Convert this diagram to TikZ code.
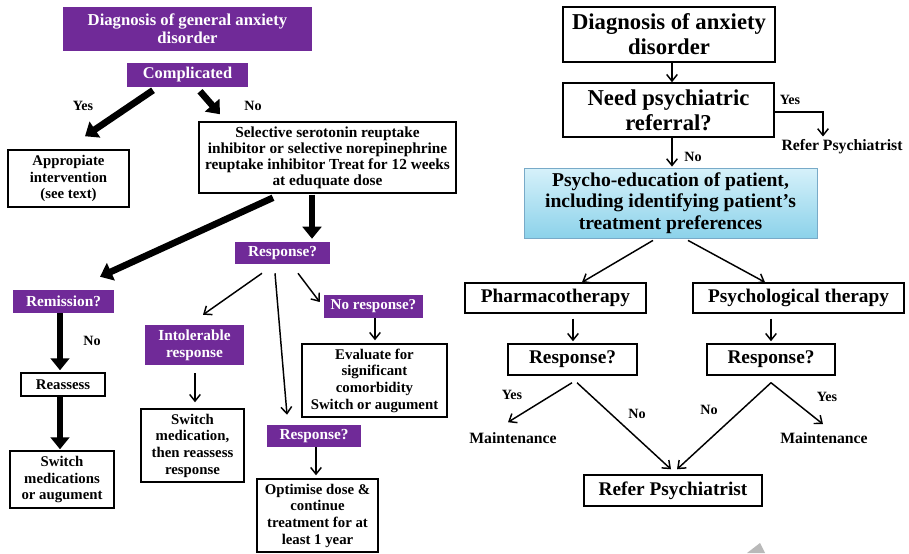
\documentclass[tikz,border=0pt]{standalone}
\usepackage{fontspec}
\setmainfont{Liberation Serif}
\usetikzlibrary{arrows.meta,calc}
\definecolor{ppl}{RGB}{112,42,152}
\definecolor{blueT}{RGB}{214,241,250}
\definecolor{blueB}{RGB}{140,210,234}
\definecolor{blueD}{RGB}{120,170,200}
\begin{document}
\begin{tikzpicture}[x=0.75pt,y=-0.75pt,
  fz/.style 2 args={font=\fontsize{#1}{#2}\selectfont\bfseries},
  sz/.style 2 args={minimum width=#1*0.75pt, minimum height=#2*0.75pt},
  wbox/.style={draw, line width=1.1pt, fill=white, align=center, inner sep=0pt},
  pbox/.style={fill=ppl, text=white, align=center, inner sep=0pt},
  lbl/.style={fz={10.6}{12}, inner sep=0pt},
  thk/.style={line width=5pt, -{Triangle[length=9pt,width=14pt]}},
  thn/.style={line width=1.1pt, -{Straight Barb[length=5pt,width=8pt]}},
]
\useasboundingbox (0,0) rectangle (909,553);
\fill[white] (0,0) rectangle (909,553);

% ---------------- left flowchart ----------------
\node[pbox, sz={249}{44}, fz={12.5}{13.5}] (ldiag) at (187.5,29) {Diagnosis of general anxiety\\disorder};
\node[pbox, sz={121}{24}, fz={12.3}{13}] (comp) at (187.5,75) {Complicated};
\node[wbox, sz={121}{57}, fz={11.1}{12.3}] (appr) at (68.5,178.5) {Appropiate\\intervention\\(see text)};
\node[wbox, sz={257}{71}, fz={11.5}{12}] (ssri) at (327.5,157.5) {Selective serotonin reuptake\\inhibitor or selective norepinephrine\\reuptake inhibitor Treat for 12 weeks\\at eduquate dose};
\node[pbox, sz={95}{22}, fz={11.5}{12}] (resp1) at (282.5,253) {Response?};
\node[pbox, sz={101}{23}, fz={11.5}{12}] (remi) at (63.5,301.5) {Remission?};
\node[wbox, sz={84}{23}, fz={11.1}{12}] (reas) at (63,384.5) {Reassess};
\node[wbox, sz={104}{57}, fz={11.1}{12.3}] (swm) at (62,479.5) {Switch\\medications\\or augument};
\node[pbox, sz={99}{40}, fz={11.5}{12.75}] (intol) at (194.5,345) {Intolerable\\response};
\node[wbox, sz={103}{73}, fz={11.1}{12.5}] (swm2) at (192.5,445.5) {Switch\\medication,\\then reassess\\response};
\node[pbox, sz={99}{23}, fz={11.3}{12}] (nores) at (373.5,306.5) {No response?};
\node[wbox, sz={145}{73}, fz={11.1}{12.5}] (eval) at (374.5,380.5) {Evaluate for\\significant\\comorbidity\\Switch or augument};
\node[pbox, sz={94}{22}, fz={11.5}{12}] (resp2) at (314,436) {Response?};
\node[wbox, sz={121}{73}, fz={11.1}{12.5}] (opt) at (317.5,515.5) {Optimise dose \&\\continue\\treatment for at\\least 1 year};

\node[lbl] (yes1) at (83,106) {Yes};
\node[lbl] (no1) at (253,106) {No};
\node[lbl] (no2) at (92,341) {No};

\draw[thk] ($(comp.south)+(-34.5,3)$) -- ($(appr.north)+(16.5,-13)$);
\draw[thk] ($(comp.south)+(12.5,4)$) -- ($(ssri.north)+(-107.5,-7)$);
\draw[thk] ($(ssri.south)+(-54.5,4)$) -- ($(remi.north)+(36.5,-13)$);
\draw[thk] ($(ssri.south)+(-15.5,1)$) -- ($(resp1.north)+(29.5,-3)$);
\draw[thk] ($(remi.south)+(-3.5,0)$) -- ($(reas.north)+(-3,-2)$);
\draw[thk] ($(reas.south)+(-3,0)$) -- ($(swm.north)+(-2,-1)$);

\draw[thn] ($(resp1.south)+(-20.5,9)$) -- ($(intol.north)+(8.5,-10)$);
\draw[thn] ($(resp1.south)+(-7.5,9)$) -- ($(resp2.north)+(-27,-10)$);
\draw[thn] ($(resp1.south)+(15.5,9)$) -- ($(nores.west)+(-4,-4.5)$);
\draw[thn] ($(intol.south)+(0.5,8)$) -- ($(swm2.north)+(2.5,-6)$);
\draw[thn] ($(nores.south)+(1.5,0)$) -- ($(eval.north)+(0.5,-3)$);
\draw[thn] ($(resp2.south)+(2,0)$) -- ($(opt.north)+(-1.5,-3)$);

% ---------------- right flowchart ----------------
\node[wbox, sz={212}{55}, fz={17}{18.75}] (rdiag) at (669,34.5) {Diagnosis of anxiety\\disorder};
\node[wbox, sz={211}{54}, fz={17}{18.75}] (need) at (668.5,110) {Need psychiatric\\referral?};
\node[draw=blueD, line width=0.6pt, top color=blueT, bottom color=blueB, align=center, inner sep=0pt, sz={293}{70}, fz={14.7}{16.1}] (psy) at (670.5,203) {Psycho-education of patient,\\including identifying patient's\\treatment preferences};
\node[wbox, sz={181}{30}, fz={14.5}{16}] (pharm) at (555.5,298) {Pharmacotherapy};
\node[wbox, sz={211}{30}, fz={14.5}{16}] (psyt) at (798.5,298) {Psychological therapy};
\node[wbox, sz={129}{31}, fz={14.5}{16}] (respL) at (572.5,359.5) {Response?};
\node[wbox, sz={128}{31}, fz={14.5}{16}] (respR) at (771,359.5) {Response?};
\node[wbox, sz={178}{31}, fz={14.5}{16}] (refer) at (673,490.5) {Refer Psychiatrist};
\node[fz={11.8}{13}, inner sep=0pt] (referTop) at (842,147) {Refer Psychiatrist};
\node[fz={11.8}{13}, inner sep=0pt] (maintL) at (513,438) {Maintenance};
\node[fz={11.8}{13}, inner sep=0pt] (maintR) at (824,438) {Maintenance};

\node[lbl] (yes2) at (790,100) {Yes};
\node[lbl] (no3) at (693,157) {No};
\node[lbl] (yes3) at (512,395) {Yes};
\node[lbl] (no4) at (637,414) {No};
\node[lbl] (no5) at (709,410) {No};
\node[lbl] (yes4) at (827,397) {Yes};

\draw[thn] ($(rdiag.south)+(3,0)$) -- ($(need.north)+(3.5,0)$);
\draw[thn] ($(need.east)+(0,2)$) -| ($(referTop.north)+(-19,-3)$);
\draw[thn] ($(need.south)+(3.5,0)$) -- ($(psy.north)+(1.5,-1)$);
\draw[thn] ($(psy.south)+(-17.5,2)$) -- ($(pharm.north)+(26.5,0)$);
\draw[thn] ($(psy.south)+(17.5,2)$) -- ($(psyt.north)+(-33.5,0)$);
\draw[thn] ($(pharm.south)+(17.5,5)$) -- ($(respL.north)+(0.5,-2)$);
\draw[thn] ($(psyt.south)+(-27.5,5)$) -- ($(respR.north)+(0,-2)$);
\draw[thn] ($(respL.south)+(-0.5,7)$) -- ($(maintL.north)+(-5,-10)$);
\draw[thn] ($(respL.south)+(4.5,7)$) -- ($(refer.north)+(-2,-5)$);
\draw[thn] ($(respR.south)+(0,7)$) -- ($(refer.north)+(4,-5)$);
\draw[thn] ($(respR.south)+(0,7)$) -- ($(maintR.north)+(-1,-8)$);

% grey mark at the bottom edge
\fill[gray!55] (747,553) -- (760,543) -- (765,553) -- cycle;
\end{tikzpicture}
\end{document}
